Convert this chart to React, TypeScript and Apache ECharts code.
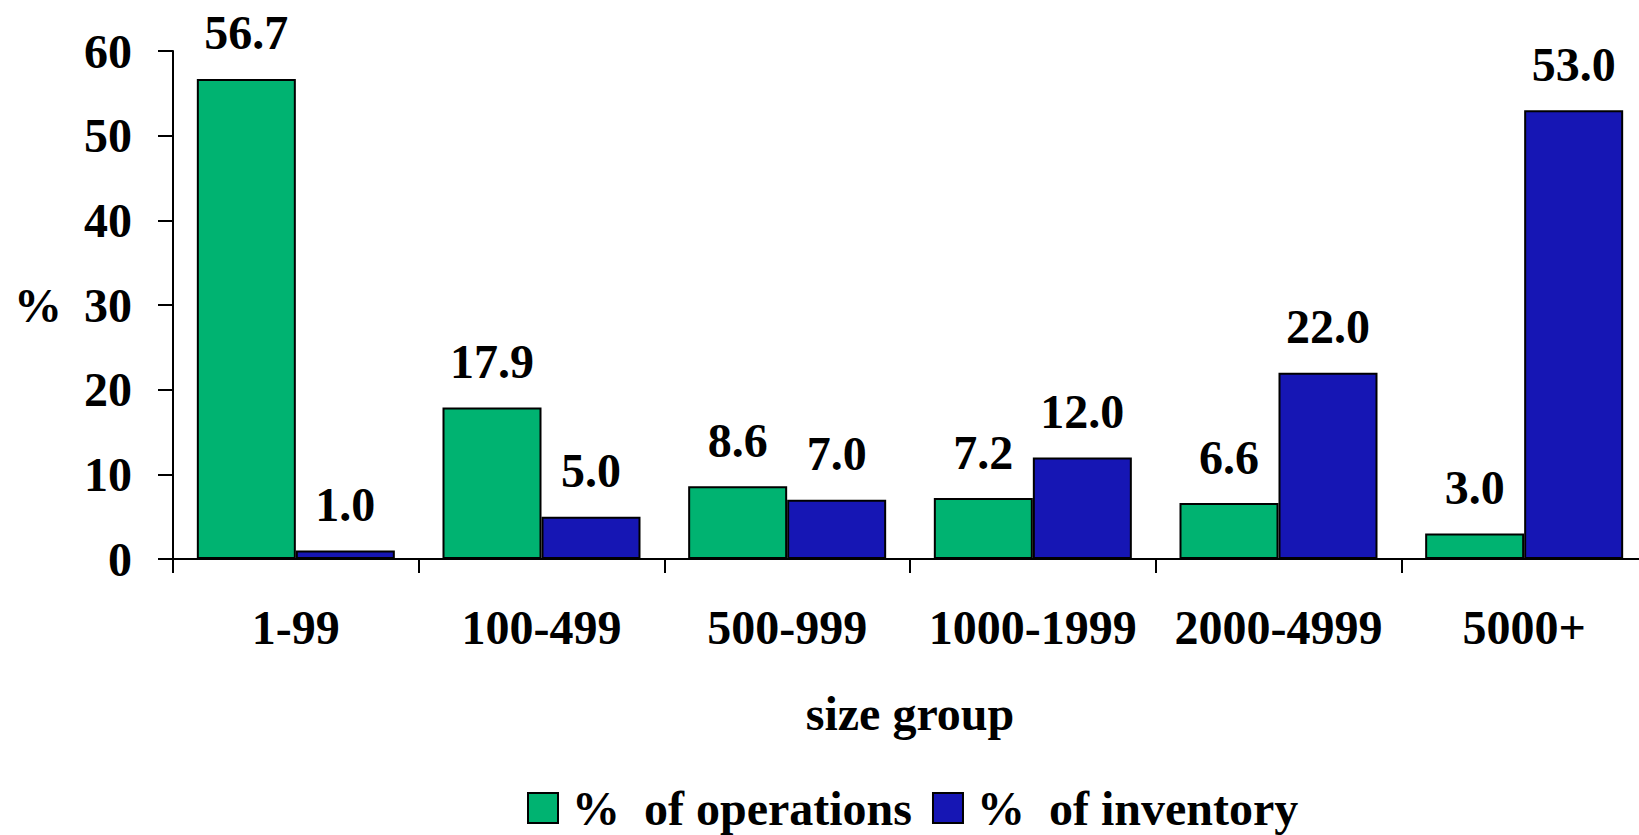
import React, { useEffect, useRef } from "react";
import * as echarts from "echarts";

const categories = ["1-99", "100-499", "500-999", "1000-1999", "2000-4999", "5000+"];
const operations = [56.7, 17.9, 8.6, 7.2, 6.6, 3.0];
const inventory = [1.0, 5.0, 7.0, 12.0, 22.0, 53.0];
const seriesNames = ["%\u00A0 of operations", "%\u00A0 of inventory"];

const FONT = "'Liberation Serif', 'Times New Roman', serif";

export default function App() {
  const ref = useRef<HTMLDivElement>(null);
  useEffect(() => {
    if (!ref.current) return;
    const chart = echarts.init(ref.current, undefined, { renderer: "svg" });
    const txt = { fontFamily: FONT, fontWeight: "bold" as const, fontSize: 48, color: "#000" };
    const label = {
      show: true,
      position: "top" as const,
      distance: 22,
      ...txt,
      formatter: (p: any) => Number(p.value).toFixed(1),
    };
    chart.setOption({
      animation: false,
      backgroundColor: "#fff",
      grid: { left: 173, top: 51, width: 1474, height: 508, outerBoundsMode: "none" },
      legend: {
        left: 527,
        top: 784,
        padding: 0,
        icon: "rect",
        itemWidth: 30,
        itemHeight: 30,
        itemGap: 20,
        textStyle: { ...txt, lineHeight: 44, padding: [0, 0, 0, 9] },
        data: seriesNames,
      },
      xAxis: {
        type: "category",
        data: categories,
        name: "size group",
        nameLocation: "middle",
        nameGap: 130,
        nameTextStyle: txt,
        axisLine: { lineStyle: { color: "#000", width: 2 } },
        axisTick: { show: true, length: 14, lineStyle: { color: "#000", width: 2 } },
        axisLabel: { ...txt, margin: 44, interval: 0 },
      },
      yAxis: {
        type: "value",
        min: 0,
        max: 60,
        interval: 10,
        name: "%",
        nameLocation: "middle",
        nameRotate: 0,
        nameGap: 111,
        nameTextStyle: txt,
        splitLine: { show: false },
        axisLine: { show: true, lineStyle: { color: "#000", width: 2 } },
        axisTick: { show: true, length: 15, lineStyle: { color: "#000", width: 2 } },
        axisLabel: { ...txt, margin: 41 },
      },
      series: [
        {
          name: seriesNames[0],
          type: "bar",
          data: operations,
          barGap: "0%",
          barCategoryGap: "19.4%",
          itemStyle: { color: "#00B371", borderColor: "#000", borderWidth: 2 },
          label,
        },
        {
          name: seriesNames[1],
          type: "bar",
          data: inventory,
          barGap: "0%",
          barCategoryGap: "19.4%",
          itemStyle: { color: "#1616B4", borderColor: "#000", borderWidth: 2 },
          label,
        },
      ],
    });
    return () => chart.dispose();
  }, []);
  return (
    <div
      ref={ref}
      style={{ position: "absolute", left: 0, top: 0, width: 1639, height: 835 }}
    />
  );
}
